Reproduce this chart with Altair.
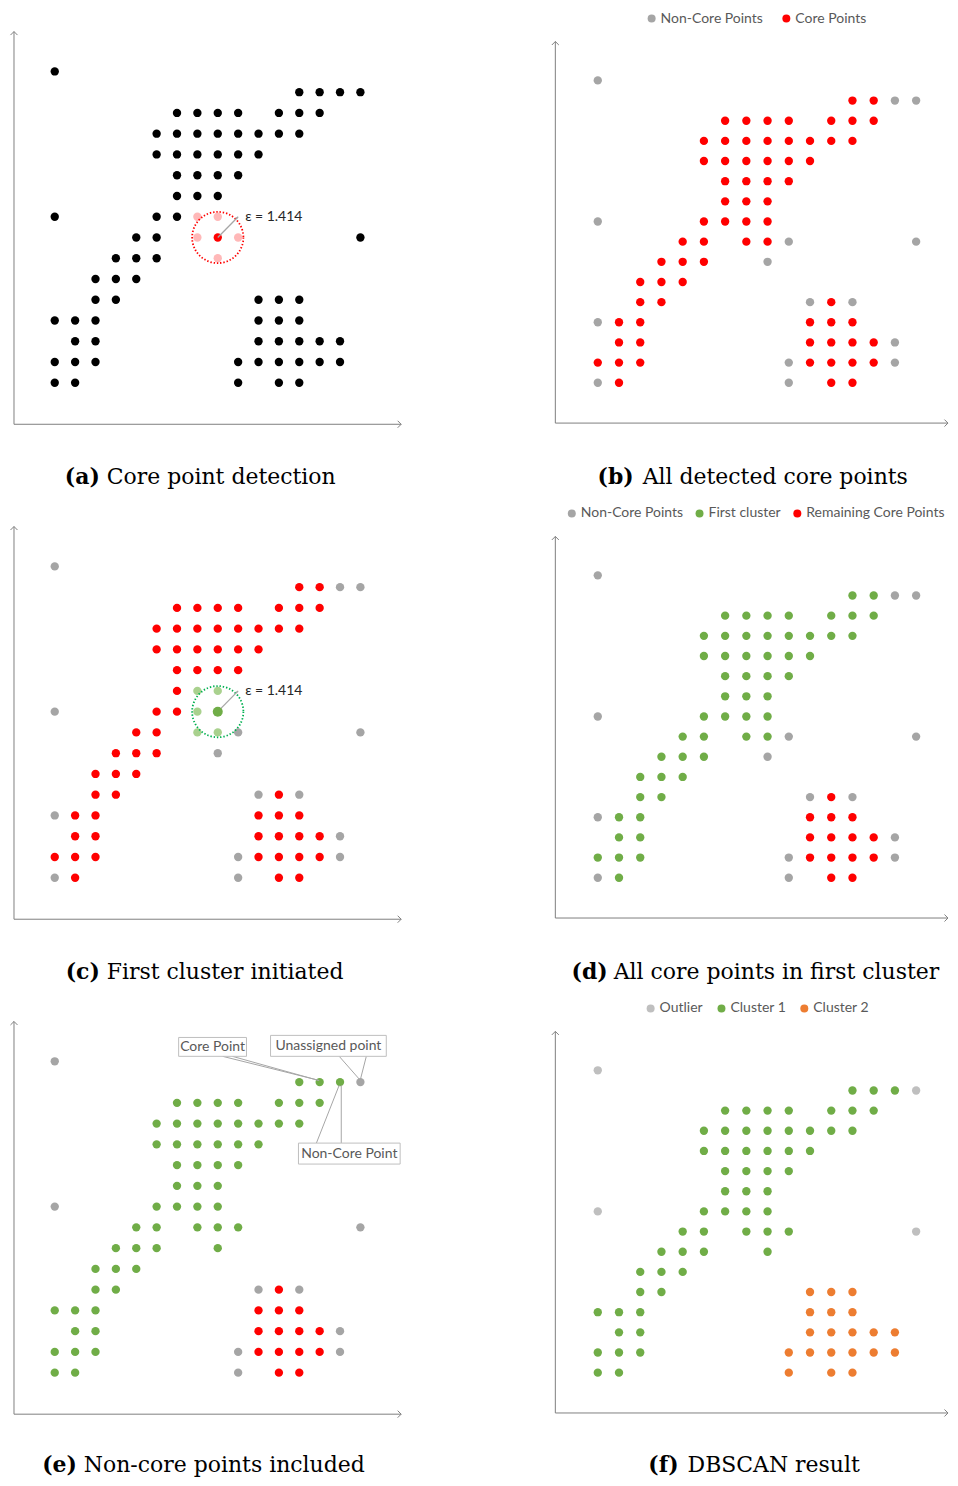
import altair as alt
import pandas as pd

# ---------------- data ----------------
# grid position of every point: column index (left -> right) and row index (top -> bottom)
POINT_COL = [
    0,
    12, 13, 14, 15,
    6, 7, 8, 9, 11, 12, 13,
    5, 6, 7, 8, 9, 10, 11, 12,
    5, 6, 7, 8, 9, 10,
    6, 7, 8, 9,
    6, 7, 8,
    0, 5, 6, 7, 8,
    4, 5, 7, 8, 9, 15,
    3, 4, 5, 8,
    2, 3, 4,
    2, 3, 10, 11, 12,
    0, 1, 2, 10, 11, 12,
    1, 2, 10, 11, 12, 13, 14,
    0, 1, 2, 9, 10, 11, 12, 13, 14,
    0, 1, 9, 11, 12,
]
POINT_ROW = [
    0,
    1, 1, 1, 1,
    2, 2, 2, 2, 2, 2, 2,
    3, 3, 3, 3, 3, 3, 3, 3,
    4, 4, 4, 4, 4, 4,
    5, 5, 5, 5,
    6, 6, 6,
    7, 7, 7, 7, 7,
    8, 8, 8, 8, 8, 8,
    9, 9, 9, 9,
    10, 10, 10,
    11, 11, 11, 11, 11,
    12, 12, 12, 12, 12, 12,
    13, 13, 13, 13, 13, 13, 13,
    14, 14, 14, 14, 14, 14, 14, 14, 14,
    15, 15, 15, 15, 15,
]
# 1 = core point, 0 = non-core point (panel b)
CORE = [
    0,
    1, 1, 0, 0,
    1, 1, 1, 1, 1, 1, 1,
    1, 1, 1, 1, 1, 1, 1, 1,
    1, 1, 1, 1, 1, 1,
    1, 1, 1, 1,
    1, 1, 1,
    0, 1, 1, 1, 1,
    1, 1, 1, 1, 0, 0,
    1, 1, 1, 0,
    1, 1, 1,
    1, 1, 0, 1, 0,
    0, 1, 1, 1, 1, 1,
    1, 1, 1, 1, 1, 1, 0,
    1, 1, 1, 0, 1, 1, 1, 1, 0,
    0, 1, 0, 1, 1,
]
# final DBSCAN label: 1 = cluster 1, 2 = cluster 2, 0 = outlier (panel f)
CLUSTER = [
    0,
    1, 1, 1, 0,
    1, 1, 1, 1, 1, 1, 1,
    1, 1, 1, 1, 1, 1, 1, 1,
    1, 1, 1, 1, 1, 1,
    1, 1, 1, 1,
    1, 1, 1,
    0, 1, 1, 1, 1,
    1, 1, 1, 1, 1, 0,
    1, 1, 1, 1,
    1, 1, 1,
    1, 1, 2, 2, 2,
    1, 1, 1, 2, 2, 2,
    1, 1, 2, 2, 2, 2, 2,
    1, 1, 1, 2, 2, 2, 2, 2, 2,
    1, 1, 2, 2, 2,
]

EPS = 1.414
# panel (a): point being tested and its eps-neighbours
A_CENTER = (8, 8)
A_TIP = (9, 7)
A_NEAR_COL = [7, 8, 7, 9, 8]
A_NEAR_ROW = [7, 7, 8, 8, 9]
# panel (c): seed of the first cluster and its core neighbours
C_CENTER = (8, 7)
C_TIP = (9, 6)
C_NEAR_COL = [7, 8, 7, 7, 8]
C_NEAR_ROW = [6, 6, 7, 8, 8]

# panel (e) call-outs (box corners and leader lines, in grid units)
CALLOUT_TEXT = ["Core Point", "Unassigned point", "Non-Core Point"]
CALLOUT_X1 = [6.08, 10.59, 11.96]
CALLOUT_X2 = [9.41, 16.27, 16.95]
CALLOUT_Y1 = [-1.15, -1.25, 3.94]
CALLOUT_Y2 = [-0.24, -0.24, 4.95]
LEADER_X1 = [8.24, 8.72, 13.96, 15.29, 12.84, 14.06]
LEADER_Y1 = [-0.24, -0.24, -0.24, -0.24, 3.94, 3.94]
LEADER_X2 = [12.94, 12.98, 14.99, 14.99, 13.96, 14.06]
LEADER_Y2 = [0.91, 0.93, 0.91, 0.91, 1.15, 1.15]

CAPTIONS = [
    ("(a)", "Core point detection"),
    ("(b)", "All detected core points"),
    ("(c)", "First cluster initiated"),
    ("(d)", "All core points in first cluster"),
    ("(e)", "Non-core points included"),
    ("(f)", "DBSCAN result"),
]

# ---------------- styling ----------------
BLACK, RED, PINK = "#000000", "#FF0000", "#FFB8B8"
GRAY, LIGHTGRAY = "#A5A5A5", "#BFBFBF"
GREEN, LIGHTGREEN, ORANGE = "#70AD47", "#A9D18E", "#ED7D31"
AXIS = "#7F7F7F"
LABEL = "#595959"
SANS = "Lato"
SERIF = "DejaVu Serif"
DOT = 70

LW, RW, H = 470, 472, 490
OY = [0, 6, 12]          # vertical shift of each row's content inside its cell


def lin(p_lo, p_hi, size, reverse=False):
    """scale whose grid values -2 and 17 fall on pixels p_lo and p_hi of a view of given size"""
    unit = (p_hi - p_lo) / 19.0
    d0 = -2 - p_lo / unit
    d1 = -2 + (size - p_lo) / unit
    return alt.Scale(domain=[d0, d1], reverse=reverse, nice=False, zero=False)


XS_L = lin(4, 392, LW)
XS_R = lin(76.5, 480.6, RW)
YS_L = [lin(20.4 + o, 415.6 + o, H, True) for o in OY]
YS_R = [lin(30.6 + o, 414.4 + o, H, True) for o in OY]

UP = "M-1,1L0,0L1,1"
RIGHT = "M-1,-1L0,0L-1,1"
HEAD = "M0,0L-0.42,0.99L-0.99,0.42Z"

pts = pd.DataFrame({"col": POINT_COL, "row": POINT_ROW, "core": CORE, "cl": CLUSTER})
a_near = set(zip(A_NEAR_COL, A_NEAR_ROW))
c_near = set(zip(C_NEAR_COL, C_NEAR_ROW))


def cat_a(r):
    if (r.col, r.row) == A_CENTER:
        return "center"
    if (r.col, r.row) in a_near:
        return "near"
    return "other"


def cat_c(r):
    if (r.col, r.row) == C_CENTER:
        return "center"
    if (r.col, r.row) in c_near:
        return "near"
    return "core" if r.core else "noncore"


def cat_d(r):
    if r.core and r.cl == 1:
        return "First cluster"
    if r.core and r.cl == 2:
        return "Remaining Core Points"
    return "Non-Core Points"


def cat_e(r):
    if r.cl == 1:
        return "c1"
    if r.core and r.cl == 2:
        return "core2"
    return "other"


pts["a"] = pts.apply(cat_a, axis=1)
pts["b"] = ["Core Points" if c else "Non-Core Points" for c in pts.core]
pts["c"] = pts.apply(cat_c, axis=1)
pts["d"] = pts.apply(cat_d, axis=1)
pts["e"] = pts.apply(cat_e, axis=1)
pts["f"] = [{0: "Outlier", 1: "Cluster 1", 2: "Cluster 2"}[c] for c in pts.cl]


def legend(x, y, n, pad):
    return alt.Legend(orient="none", legendX=x, legendY=y, direction="horizontal",
                      columns=n, title=None, columnPadding=pad, labelFont=SANS,
                      labelFontSize=14, labelColor=LABEL, symbolSize=64,
                      symbolType="circle", labelOffset=2, symbolStrokeWidth=0,
                      padding=0)


def scatter(field, xs, ys, domain, rng, leg=None, data=None):
    return alt.Chart(pts if data is None else data).mark_circle(size=DOT, opacity=1).encode(
        x=alt.X("col:Q", scale=xs, axis=None),
        y=alt.Y("row:Q", scale=ys, axis=None),
        color=alt.Color(f"{field}:N", scale=alt.Scale(domain=domain, range=rng), legend=leg),
    )


def axes(xs, ys, top, right):
    lines = pd.DataFrame({"x": [-2, -2], "y": [top, 17], "x2": [-2, right], "y2": [17, 17]})
    heads = pd.DataFrame({"x": [-2, right], "y": [top, 17], "dir": ["up", "right"]})
    rule = alt.Chart(lines).mark_rule(color=AXIS, strokeWidth=1).encode(
        x=alt.X("x:Q", scale=xs, axis=None), y=alt.Y("y:Q", scale=ys, axis=None),
        x2="x2:Q", y2="y2:Q")
    arrow = alt.Chart(heads).mark_point(filled=False, color=AXIS, strokeWidth=1, size=49, opacity=1).encode(
        x=alt.X("x:Q", scale=xs, axis=None), y=alt.Y("y:Q", scale=ys, axis=None),
        shape=alt.Shape("dir:N", scale=alt.Scale(domain=["up", "right"], range=[UP, RIGHT]), legend=None))
    return [rule, arrow]


def caption(i, xb, xn, y):
    b, r = CAPTIONS[i]
    df = pd.DataFrame({"b": [b], "r": [r]})
    l1 = alt.Chart(df).mark_text(font=SERIF, fontSize=22, fontWeight="bold", align="right",
                                 baseline="alphabetic", color="#000000").encode(
        x=alt.value(xb), y=alt.value(y), text="b:N")
    l2 = alt.Chart(df).mark_text(font=SERIF, fontSize=22, align="left",
                                 baseline="alphabetic", color="#000000").encode(
        x=alt.value(xn), y=alt.value(y), text="r:N")
    return [l1, l2]


def eps_marks(center, tip, ring_color, xs, ys):
    df = pd.DataFrame({"col": [center[0]], "row": [center[1]], "col2": [tip[0]], "row2": [tip[1]]})
    X = alt.X("col:Q", scale=xs, axis=None)
    Y = alt.Y("row:Q", scale=ys, axis=None)
    ring = alt.Chart(df).mark_point(shape="circle", filled=False, size=2640, color=ring_color,
                                    strokeWidth=1.8, strokeDash=[1.4, 1.9], opacity=1).encode(x=X, y=Y)
    ray = alt.Chart(df).mark_rule(color="#A6A6A6", strokeWidth=1.3).encode(
        x=X, y=Y, x2="col2:Q", y2="row2:Q")
    head = alt.Chart(df).mark_point(shape=HEAD, filled=True, size=30, color="#A6A6A6", opacity=1).encode(
        x=alt.X("col2:Q", scale=xs, axis=None), y=alt.Y("row2:Q", scale=ys, axis=None))
    lab = alt.Chart(df).mark_text(align="left", baseline="middle", dx=7, font=SANS, fontSize=14,
                                  color="#262626", text=f"ε = {EPS}").encode(
        x=alt.X("col2:Q", scale=xs, axis=None), y=alt.Y("row2:Q", scale=ys, axis=None))
    return [ring, ray, head, lab]


# ---------------- panels ----------------
pa = alt.layer(
    *axes(XS_L, YS_L[0], -1.92, 17),
    scatter("a", XS_L, YS_L[0], ["other", "near", "center"], [BLACK, PINK, RED]),
    *eps_marks(A_CENTER, A_TIP, RED, XS_L, YS_L[0]),
    *caption(0, 90, 97, 475 + OY[0]),
).properties(width=LW, height=H)

pb = alt.layer(
    *axes(XS_R, YS_R[0], -1.93, 16.5),
    scatter("b", XS_R, YS_R[0], ["Non-Core Points", "Core Points"], [GRAY, RED],
            legend(166, 2 + OY[0], 2, 16)),
    *caption(1, 155, 164, 475 + OY[0]),
).properties(width=RW, height=H)

pc = alt.layer(
    *axes(XS_L, YS_L[1], -1.92, 17),
    scatter("c", XS_L, YS_L[1], ["noncore", "core", "near"], [GRAY, RED, LIGHTGREEN],
            data=pts[pts.c != "center"]),
    *eps_marks(C_CENTER, C_TIP, "#00B050", XS_L, YS_L[1]),
    alt.Chart(pts[pts.c == "center"]).mark_circle(size=100, opacity=1, color=GREEN).encode(
        x=alt.X("col:Q", scale=XS_L, axis=None), y=alt.Y("row:Q", scale=YS_L[1], axis=None)),
    *caption(2, 90, 97, 475 + OY[1]),
).properties(width=LW, height=H)

pd_ = alt.layer(
    *axes(XS_R, YS_R[1], -1.93, 16.5),
    scatter("d", XS_R, YS_R[1], ["Non-Core Points", "First cluster", "Remaining Core Points"],
            [GRAY, GREEN, RED], legend(86, 2 + OY[1], 3, 9)),
    *caption(3, 129, 135, 475 + OY[1]),
).properties(width=RW, height=H)

boxes = pd.DataFrame({"t": CALLOUT_TEXT, "x1": CALLOUT_X1, "x2": CALLOUT_X2,
                      "y1": CALLOUT_Y1, "y2": CALLOUT_Y2})
boxes["xm"] = (boxes.x1 + boxes.x2) / 2
boxes["ym"] = (boxes.y1 + boxes.y2) / 2
leaders = pd.DataFrame({"x1": LEADER_X1, "y1": LEADER_Y1, "x2": LEADER_X2, "y2": LEADER_Y2})

pe = alt.layer(
    *axes(XS_L, YS_L[2], -1.92, 17),
    scatter("e", XS_L, YS_L[2], ["other", "c1", "core2"], [GRAY, GREEN, RED]),
    alt.Chart(leaders).mark_rule(color="#A6A6A6", strokeWidth=1).encode(
        x=alt.X("x1:Q", scale=XS_L, axis=None), y=alt.Y("y1:Q", scale=YS_L[2], axis=None),
        x2="x2:Q", y2="y2:Q"),
    alt.Chart(boxes).mark_rect(fill="#FFFFFF", stroke="#BFBFBF", strokeWidth=1).encode(
        x=alt.X("x1:Q", scale=XS_L, axis=None), y=alt.Y("y1:Q", scale=YS_L[2], axis=None),
        x2="x2:Q", y2="y2:Q"),
    alt.Chart(boxes).mark_text(font=SANS, fontSize=14, color=LABEL, align="center",
                               baseline="middle").encode(
        x=alt.X("xm:Q", scale=XS_L, axis=None), y=alt.Y("ym:Q", scale=YS_L[2], axis=None), text="t:N"),
    *caption(4, 67, 74, 474 + OY[2]),
).properties(width=LW, height=H)

pf = alt.layer(
    *axes(XS_R, YS_R[2], -1.93, 16.5),
    scatter("f", XS_R, YS_R[2], ["Outlier", "Cluster 1", "Cluster 2"],
            [LIGHTGRAY, GREEN, ORANGE], legend(165, 2 + OY[2], 3, 11)),
    *caption(5, 200, 209, 474 + OY[2]),
).properties(width=RW, height=H)

RES = dict(x="independent", y="independent", color="independent", shape="independent")

chart = alt.concat(pa, pb, pc, pd_, pe, pf, columns=2, spacing=0, bounds="flush").resolve_scale(
    **RES).properties(padding=0).configure_view(stroke=None)

chart.save("out.html", embed_options={"renderer": "svg", "actions": False})
